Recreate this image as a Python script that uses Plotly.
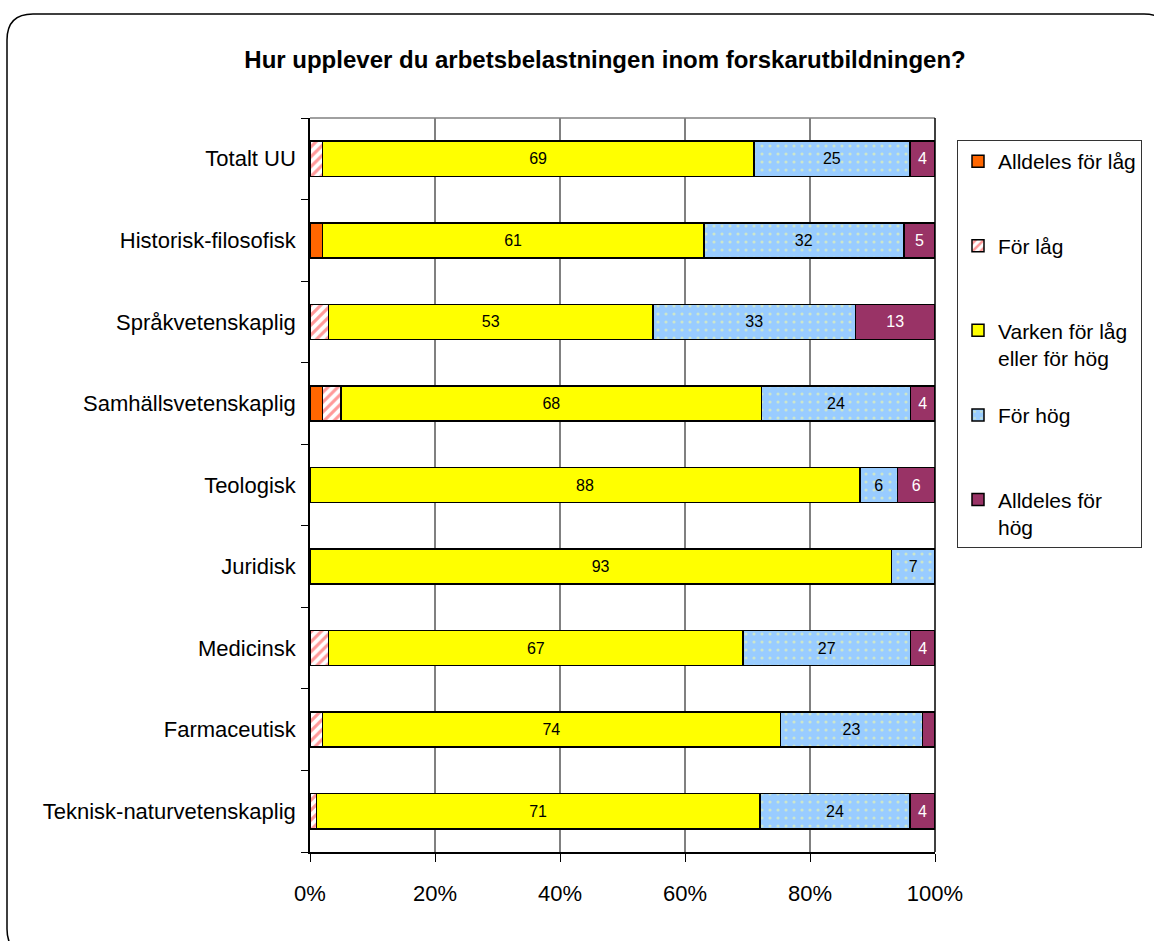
import plotly.graph_objects as go

categories = ["Totalt UU", "Historisk-filosofisk", "Språkvetenskaplig",
              "Samhällsvetenskaplig", "Teologisk", "Juridisk", "Medicinsk",
              "Farmaceutisk", "Teknisk-naturvetenskaplig"]
alldeles_lag = [0, 2, 0, 2, 0, 0, 0, 0, 0]
for_lag = [2, 0, 3, 3, 0, 0, 3, 2, 1]
varken = [69, 61, 53, 68, 88, 93, 67, 74, 71]
for_hog = [25, 32, 33, 24, 6, 7, 27, 23, 24]
alldeles_hog = [4, 5, 13, 4, 6, 0, 4, 2, 4]
x_ticks = [0, 20, 40, 60, 80, 100]
x_ticklabels = ["0%", "20%", "40%", "60%", "80%", "100%"]

FONT = "Liberation Sans, Arial, sans-serif"
W, H = 1154, 941
L, R, T, B = 310, 935, 118, 852  # plot area in page pixels


def lbl(vals):
    return [str(v) if v >= 3 else "" for v in vals]


series = [
    ("Alldeles för låg<br>\u00a0", alldeles_lag, dict(color="#FF6600"), None, "black"),
    ("För låg<br>\u00a0", for_lag, dict(color="white", pattern=dict(shape="/", fgcolor="#FF3333",
                                                                    bgcolor="white", size=7, solidity=0.45)), None, "black"),
    ("Varken för låg<br>eller för hög", varken, dict(color="#FFFF00"), lbl(varken), "black"),
    ("För hög<br>\u00a0", for_hog, dict(color="#99CCFF", pattern=dict(shape=".", fgcolor="#FFFF99",
                                                                      bgcolor="#99CCFF", size=8, solidity=0.12)), lbl(for_hog), "black"),
    ("Alldeles för<br>hög", alldeles_hog, dict(color="#993366"), lbl(alldeles_hog), "white"),
]

fig = go.Figure()
for i, (name, vals, marker, text, tcolor) in enumerate(series):
    marker = dict(marker, line=dict(color="black", width=1.5))
    fig.add_trace(go.Bar(
        y=categories, x=vals, name=name, orientation="h", marker=marker,
        text=text, textposition="inside" if text else "none",
        insidetextanchor="middle", textangle=0,
        textfont=dict(family=FONT, size=16, color=tcolor),
        legendgroup=str(i), hoverinfo="skip",
    ))


# rounded outer frame, given in page pixels and mapped to paper coords
def P(x, y):
    return f"{(x - L) / (R - L):.5f},{(B - y) / (B - T):.5f}"


x0, y0, x1, y1, r = 7, 14, 1170, 955, 26
path = (f"M {P(x0 + r, y0)} L {P(x1 - r, y0)} Q {P(x1, y0)} {P(x1, y0 + r)} "
        f"L {P(x1, y1 - r)} Q {P(x1, y1)} {P(x1 - r, y1)} L {P(x0 + r, y1)} "
        f"Q {P(x0, y1)} {P(x0, y1 - r)} L {P(x0, y0 + r)} Q {P(x0, y0)} {P(x0 + r, y0)} Z")
fig.add_shape(type="path", path=path, xref="paper", yref="paper",
              line=dict(color="black", width=1.5), layer="below")

fig.update_layout(
    width=W, height=H,
    barmode="stack", barnorm="percent", bargap=0.57,
    margin=dict(l=L, r=W - R, t=T, b=H - B, pad=0),
    paper_bgcolor="white", plot_bgcolor="white",
    font=dict(family=FONT, size=20, color="black"),
    title=dict(text="<b>Hur upplever du arbetsbelastningen inom forskarutbildningen?</b>",
               x=605 / W, xanchor="center", y=1 - 60 / H, yanchor="middle",
               font=dict(family=FONT, size=24, color="black")),
    legend=dict(x=(957 - L) / (R - L), xanchor="left", y=(B - 140) / (B - T), yanchor="top",
                bordercolor="#333333", borderwidth=1, bgcolor="white",
                font=dict(family=FONT, size=21), tracegroupgap=27,
                itemwidth=30, traceorder="grouped", valign="top"),
    showlegend=True,
)
fig.update_xaxes(range=[0, 100], tickvals=x_ticks, ticktext=x_ticklabels,
                 showgrid=True, gridcolor="#808080", gridwidth=1.5,
                 showline=True, linecolor="black", linewidth=1.5,
                 ticks="outside", ticklen=8, tickcolor="black",
                 ticklabelstandoff=13, zeroline=False,
                 tickfont=dict(family=FONT, size=22))
fig.update_yaxes(categoryorder="array", categoryarray=categories[::-1],
                 showline=True, linecolor="black", linewidth=1.5,
                 ticks="outside", ticklen=7, tickcolor="black", tickson="boundaries",
                 ticklabelstandoff=8,
                 showgrid=False, tickfont=dict(family=FONT, size=22))
# top and right plot borders
fig.add_shape(type="line", xref="paper", yref="paper", x0=0, x1=1, y0=1, y1=1,
              line=dict(color="#808080", width=1.5))
fig.add_shape(type="line", xref="paper", yref="paper", x0=1, x1=1, y0=0, y1=1,
              line=dict(color="black", width=1.5))

fig.write_html("out.html", config={"displayModeBar": False},
               post_script="document.body.style.margin='0';")
